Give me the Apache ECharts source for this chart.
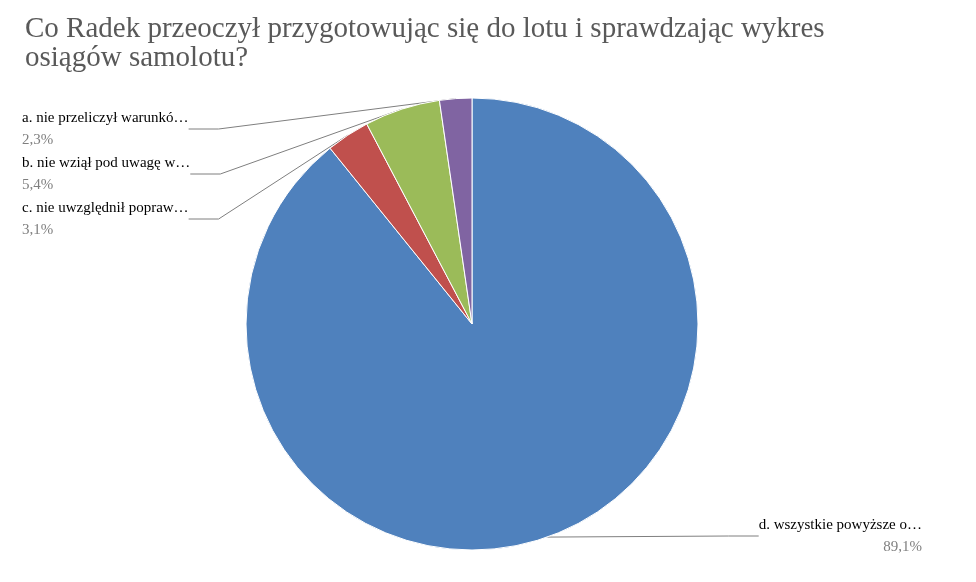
<!DOCTYPE html>
<html><head><meta charset="utf-8">
<script src="https://cdn.jsdelivr.net/npm/echarts@6/dist/echarts.min.js"></script>
<style>html,body{margin:0;padding:0;background:#fff}#c{width:976px;height:582px}</style>
</head><body><div id="c"></div>
<script>
const categories = ['d. wszystkie powyższe o…','c. nie uwzględnił popraw…','b. nie wziął pod uwagę w…','a. nie przeliczył warunkó…'];
const values = [89.1, 3.1, 5.4, 2.3];
const colors = ['#4f81bd','#c0504d','#9bbb59','#8064a2'];
const labelPos = [[922, 514, 'right'], [22, 197, 'left'], [22, 152, 'left'], [22, 107, 'left']];
const chart = echarts.init(document.getElementById('c'));
chart.setOption({
  title: { text: 'Co Radek przeoczył przygotowując się do lotu i sprawdzając wykres\nosiągów samolotu?', left: 20, top: 10,
    textStyle: { fontFamily: 'Liberation Serif', fontSize: 29, fontWeight: 'normal', color: '#595959', lineHeight: 29 } },
  series: [{
    type: 'pie', center: [472, 324], radius: 226, startAngle: 90, clockwise: true,
    animation: false,
    data: categories.map((n, i) => ({ name: n, value: values[i], itemStyle: { color: colors[i] } })),
    itemStyle: { borderColor: '#fff', borderWidth: 1 },
    label: { formatter: p => '{n|' + p.name + '}\n{v|' + String(p.value).replace('.', ',') + '%}',
      rich: { n: { fontFamily: 'Liberation Serif', fontSize: 15, color: '#000', lineHeight: 22 },
              v: { fontFamily: 'Liberation Serif', fontSize: 15, color: '#7f7f7f', lineHeight: 22 } } },
    labelLine: { show: true, lineStyle: { color: '#7f7f7f', width: 1 } },
    labelLayout: p => {
      const lp = labelPos[p.dataIndex];
      return { x: lp[0], y: lp[1], align: lp[2], verticalAlign: 'top' };
    }
  }]
});
</script></body></html>
